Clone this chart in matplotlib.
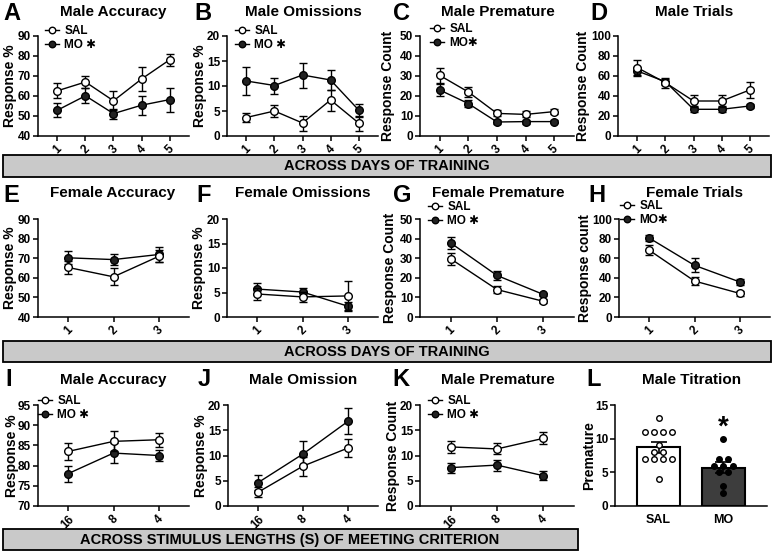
import matplotlib
matplotlib.use('Agg')
import matplotlib.pyplot as plt
from matplotlib.patches import Rectangle
from matplotlib.font_manager import FontProperties
import numpy as np

plt.rcParams['font.family'] = ['Liberation Sans', 'DejaVu Sans']
plt.rcParams['font.weight'] = 'bold'
plt.rcParams['axes.labelweight'] = 'bold'

# ---------------- data ----------------
days5 = [1, 2, 3, 4, 5]
days3 = [1, 2, 3]
stim_labels = ['16', '8', '4']

male_acc_sal = [62.6, 67.0, 57.6, 68.5, 78.1]
male_acc_sal_err = [3.8, 3.2, 4.8, 6.0, 3.0]
male_acc_mo = [52.9, 60.1, 51.2, 55.4, 58.2]
male_acc_mo_err = [3.4, 3.8, 2.5, 4.8, 6.0]

male_om_sal = [3.7, 5.0, 2.6, 7.2, 2.6]
male_om_sal_err = [0.95, 1.25, 1.5, 2.1, 1.5]
male_om_mo = [11.0, 10.1, 12.2, 11.2, 5.2]
male_om_mo_err = [2.8, 1.6, 2.5, 2.0, 1.3]

male_pre_sal = [30.3, 22.0, 11.3, 10.8, 12.2]
male_pre_sal_err = [3.7, 2.5, 1.5, 1.5, 1.3]
male_pre_mo = [23.0, 16.2, 7.0, 7.2, 7.2]
male_pre_mo_err = [2.9, 1.7, 1.0, 1.0, 0.8]

male_tri_sal = [68.3, 53.3, 35.0, 35.0, 46.0]
male_tri_sal_err = [8.0, 5.0, 5.7, 6.0, 7.8]
male_tri_mo = [65.0, 54.3, 26.7, 26.7, 30.0]
male_tri_mo_err = [4.0, 3.0, 3.0, 3.0, 2.0]

fem_acc_sal = [65.3, 60.5, 71.0]
fem_acc_sal_err = [3.3, 4.3, 3.0]
fem_acc_mo = [70.2, 69.3, 71.9]
fem_acc_mo_err = [3.3, 3.0, 3.8]

fem_om_sal = [4.7, 4.1, 4.3]
fem_om_sal_err = [1.3, 1.0, 3.0]
fem_om_mo = [5.7, 5.1, 2.2]
fem_om_mo_err = [1.2, 0.8, 0.8]

fem_pre_sal = [29.7, 14.0, 8.0]
fem_pre_sal_err = [3.0, 2.0, 1.0]
fem_pre_mo = [37.8, 21.2, 11.5]
fem_pre_mo_err = [3.0, 2.5, 1.0]

fem_tri_sal = [68.3, 36.7, 24.0]
fem_tri_sal_err = [5.0, 4.0, 2.5]
fem_tri_mo = [80.7, 52.7, 35.7]
fem_tri_mo_err = [3.0, 7.0, 3.0]

stim_acc_sal = [83.5, 86.0, 86.4]
stim_acc_sal_err = [2.0, 2.5, 1.7]
stim_acc_mo = [78.0, 83.1, 82.5]
stim_acc_mo_err = [2.0, 2.5, 1.4]

stim_om_sal = [2.7, 7.9, 11.5]
stim_om_sal_err = [1.0, 1.9, 1.7]
stim_om_mo = [4.6, 10.3, 16.8]
stim_om_mo_err = [1.5, 2.5, 2.6]

stim_pre_sal = [11.7, 11.3, 13.4]
stim_pre_sal_err = [1.2, 1.1, 1.2]
stim_pre_mo = [7.6, 8.1, 6.0]
stim_pre_mo_err = [1.0, 1.1, 0.9]

titr_groups = ['SAL', 'MO']
titr_means = [8.7, 5.7]
titr_sem = [0.8, 0.8]
titr_sal_points = [13, 11, 11, 11, 11, 9, 8, 8, 7, 7, 7, 7, 4]
titr_mo_points = [10, 7, 7, 6, 6, 6, 5, 5, 3, 2]

# ---------------- layout helpers ----------------
W, H = 775, 553
fig = plt.figure(figsize=(7.75, 5.53), dpi=100)

def px_axes(l, t, r, b):
    ax = fig.add_axes([l / W, 1 - b / H, (r - l) / W, (b - t) / H])
    ax._px = (l, t, r, b)
    for s in ['top', 'right']:
        ax.spines[s].set_visible(False)
    for s in ['left', 'bottom']:
        ax.spines[s].set_linewidth(1.1)
    ax.tick_params(direction='out', length=3.5, width=1.1, labelsize=8.5, pad=1.5)
    ax.patch.set_alpha(0)
    return ax

def fx(x):
    return x / W

def fy(y):
    return 1 - y / H

ROWS = [(36, 136), (219, 317), (405, 506)]

def set_ylabel_px(ax, text, x_center_px):
    # y-label anchor is the right edge of the rotated text; shift from center
    l, t, r, b = ax._px
    ax.set_ylabel(text, fontsize=10)
    ax.yaxis.set_label_coords((x_center_px + 7 - l) / (r - l), 0.5)

def line_panel(ax, x, sal, sal_err, mo, mo_err, ylim, yticks, xlabels, ylabel, ylab_x):
    ax.errorbar(x, mo, yerr=mo_err, fmt='none', ecolor='black', elinewidth=1.0,
                capsize=3, capthick=1.0, zorder=2)
    hm, = ax.plot(x, mo, '-o', color='black', lw=1.0, ms=5.5, mfc='#222222',
                  mec='black', mew=1.0, zorder=3)
    ax.errorbar(x, sal, yerr=sal_err, fmt='none', ecolor='black', elinewidth=1.0,
                capsize=3, capthick=1.0, zorder=4)
    hs, = ax.plot(x, sal, '-o', color='black', lw=1.0, ms=5.5, mfc='white',
                  mec='black', mew=1.0, zorder=5)
    ax.set_ylim(*ylim)
    ax.set_yticks(yticks)
    ax.set_xticks(x)
    ax.set_xticklabels(xlabels, rotation=45, ha='center', va='top')
    if len(x) == 5:
        ax.set_xlim(0.31, 5.69)
    else:
        ax.set_xlim(0.34, 3.66)
    set_ylabel_px(ax, ylabel, ylab_x)
    return hs, hm

def add_legend(ax, hs, hm, x_px, y_px, mo_label='MO \u2731'):
    fp = FontProperties(family=['Liberation Sans', 'DejaVu Sans'], weight='bold', size=8.5)
    leg = ax.legend([hs, hm], ['SAL', mo_label], loc='upper left',
                    bbox_to_anchor=(fx(x_px), fy(y_px)), bbox_transform=fig.transFigure,
                    frameon=False, handlelength=1.2, handletextpad=0.45,
                    labelspacing=0.15, borderpad=0, borderaxespad=0, prop=fp,
                    markerscale=0.85)
    return leg

def title(x_c, y_c, s):
    fig.text(fx(x_c), fy(y_c), s, ha='center', va='center', fontsize=11, fontweight='bold')

def letter(x_l, y_c, s):
    fig.text(fx(x_l), fy(y_c), s, ha='left', va='center', fontsize=17, fontweight='bold')

def banner(l, t, r, b, s, xc):
    fig.patches.append(Rectangle((fx(l), fy(b)), (r - l) / W, (b - t) / H,
                                 transform=fig.transFigure, facecolor='#c9c9c9',
                                 edgecolor='black', linewidth=1.3, zorder=0))
    fig.text(fx(xc), fy((t + b) / 2 + 0.5), s, ha='center', va='center',
             fontsize=10.5, fontweight='bold')

xl5 = [str(d) for d in days5]
xl3 = [str(d) for d in days3]

# ---------------- Row 1 ----------------
t, b = ROWS[0]
ax = px_axes(38, t, 189, b)
hs, hm = line_panel(ax, days5, male_acc_sal, male_acc_sal_err, male_acc_mo, male_acc_mo_err,
                    (40, 90), [40, 50, 60, 70, 80, 90], xl5, 'Response %', 10)
add_legend(ax, hs, hm, 45, 25)
title(113, 12, 'Male Accuracy'); letter(3, 13, 'A')

ax = px_axes(227, t, 378, b)
hs, hm = line_panel(ax, days5, male_om_sal, male_om_sal_err, male_om_mo, male_om_mo_err,
                    (0, 20), [0, 5, 10, 15, 20], xl5, 'Response %', 200)
add_legend(ax, hs, hm, 235, 25)
title(303, 12, 'Male Omissions'); letter(194, 13, 'B')

ax = px_axes(420, t, 574, b)
hs, hm = line_panel(ax, days5, male_pre_sal, male_pre_sal_err, male_pre_mo, male_pre_mo_err,
                    (0, 50), [0, 10, 20, 30, 40, 50], xl5, 'Response Count', 388)
add_legend(ax, hs, hm, 430, 23, 'MO\u2731')
title(498, 12, 'Male Premature'); letter(393, 13, 'C')

ax = px_axes(618, t, 769, b)
line_panel(ax, days5, male_tri_sal, male_tri_sal_err, male_tri_mo, male_tri_mo_err,
           (0, 100), [0, 20, 40, 60, 80, 100], xl5, 'Response Count', 583)
title(694, 12, 'Male Trials'); letter(590, 13, 'D')

banner(3, 155, 771, 177, 'ACROSS DAYS OF TRAINING', 387)

# ---------------- Row 2 ----------------
t, b = ROWS[1]
ax = px_axes(38, t, 189, b)
line_panel(ax, days3, fem_acc_sal, fem_acc_sal_err, fem_acc_mo, fem_acc_mo_err,
           (40, 90), [40, 50, 60, 70, 80, 90], xl3, 'Response %', 10)
title(113, 193, 'Female Accuracy'); letter(3, 195, 'E')

ax = px_axes(227, t, 378, b)
line_panel(ax, days3, fem_om_sal, fem_om_sal_err, fem_om_mo, fem_om_mo_err,
           (0, 20), [0, 5, 10, 15, 20], xl3, 'Response %', 199)
title(303, 193, 'Female Omissions'); letter(196, 195, 'F')

ax = px_axes(420, t, 574, b)
hs, hm = line_panel(ax, days3, fem_pre_sal, fem_pre_sal_err, fem_pre_mo, fem_pre_mo_err,
                    (0, 50), [0, 10, 20, 30, 40, 50], xl3, 'Response Count', 390)
add_legend(ax, hs, hm, 428, 201)
title(498, 193, 'Female Premature'); letter(393, 195, 'G')

ax = px_axes(619, t, 770, b)
hs, hm = line_panel(ax, days3, fem_tri_sal, fem_tri_sal_err, fem_tri_mo, fem_tri_mo_err,
                    (0, 100), [0, 20, 40, 60, 80, 100], xl3, 'Response count', 585)
add_legend(ax, hs, hm, 620, 200, 'MO\u2731')
title(694, 193, 'Female Trials'); letter(588, 195, 'H')

banner(3, 341, 771, 362, 'ACROSS DAYS OF TRAINING', 387)

# ---------------- Row 3 ----------------
t, b = ROWS[2]
ax = px_axes(38, t, 189, b)
hs, hm = line_panel(ax, days3, stim_acc_sal, stim_acc_sal_err, stim_acc_mo, stim_acc_mo_err,
                    (70, 95), [70, 75, 80, 85, 90, 95], stim_labels, 'Response %', 12)
add_legend(ax, hs, hm, 38, 395)
title(113, 380, 'Male Accuracy'); letter(5, 380, 'I')

ax = px_axes(228, t, 378, b)
line_panel(ax, days3, stim_om_sal, stim_om_sal_err, stim_om_mo, stim_om_mo_err,
           (0, 20), [0, 5, 10, 15, 20], stim_labels, 'Response %', 201)
title(303, 380, 'Male Omission'); letter(198, 380, 'J')

ax = px_axes(420, t, 574, b)
hs, hm = line_panel(ax, days3, stim_pre_sal, stim_pre_sal_err, stim_pre_mo, stim_pre_mo_err,
                    (0, 20), [0, 5, 10, 15, 20], stim_labels, 'Response Count', 393)
add_legend(ax, hs, hm, 428, 395)
title(498, 380, 'Male Premature'); letter(392, 380, 'K')

# L: bar chart
ax = px_axes(615, t, 767, b)
xb = np.arange(len(titr_groups))
ax.bar(xb, titr_means, width=0.66, color=['white', '#3d3d3d'], edgecolor='black',
       linewidth=1.5, zorder=1)
ax.errorbar(xb, titr_means, yerr=titr_sem, fmt='none', ecolor='black', elinewidth=1.2,
            capsize=6, capthick=1.2, zorder=3)

def swarm_x(vals, center, step=0.14):
    vals = np.asarray(vals, float)
    xs = np.zeros_like(vals)
    for v in np.unique(vals):
        idx = np.where(vals == v)[0]
        k = len(idx)
        xs[idx] = center + (np.arange(k) - (k - 1) / 2) * step
    return xs

ax.plot(swarm_x(titr_sal_points, 0), titr_sal_points, 'o', ms=4, mfc='white',
        mec='black', mew=1.0, zorder=4, ls='none')
ax.plot(swarm_x(titr_mo_points, 1), titr_mo_points, 'o', ms=4, mfc='black',
        mec='black', mew=1.0, zorder=4, ls='none')
ax.text(1, 11.7, '*', ha='center', va='center', fontsize=20, fontweight='bold')
ax.set_xlim(-0.67, 1.67)
ax.set_ylim(0, 15)
ax.set_yticks([0, 5, 10, 15])
ax.set_xticks(xb)
ax.set_xticklabels(titr_groups, fontsize=9)
ax.tick_params(axis='x', length=0, pad=6)
set_ylabel_px(ax, 'Premature', 589)
title(692, 380, 'Male Titration'); letter(586, 380, 'L')

banner(3, 529, 578, 550, 'ACROSS STIMULUS LENGTHS (S) OF MEETING CRITERION', 290)

fig.savefig('out.png', dpi=100)
